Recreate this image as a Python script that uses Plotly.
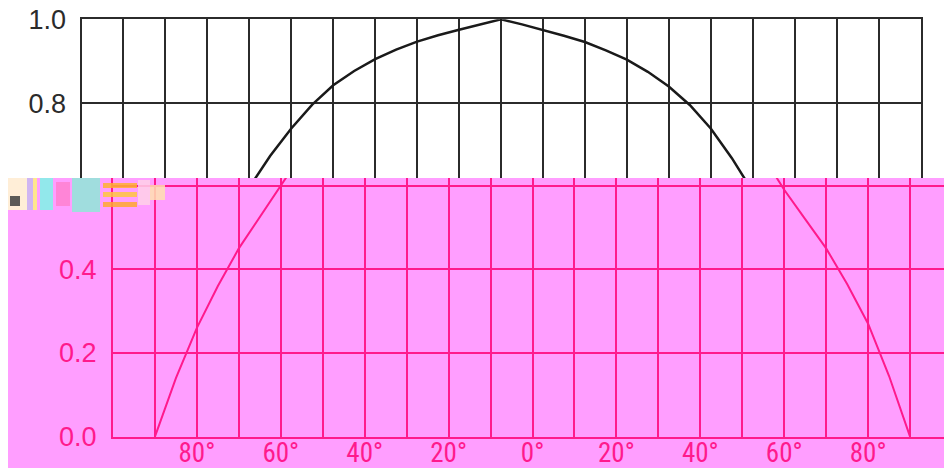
import plotly.graph_objects as go

# ---- data ----
angles = [-90, -85, -80, -75, -70, -65, -60, -55, -50, -45, -40, -35, -30, -25, -20, -15, -10, -5, 0,
          5, 10, 15, 20, 25, 30, 35, 40, 45, 50, 55, 60, 65, 70, 75, 80, 85, 90]
gain = [0.0, 0.14, 0.26, 0.36, 0.45, 0.525, 0.60, 0.675, 0.74, 0.797, 0.843, 0.877, 0.905, 0.928, 0.947,
        0.962, 0.975, 0.988, 1.0, 0.988, 0.975, 0.961, 0.946, 0.926, 0.904, 0.875, 0.84, 0.796, 0.74,
        0.67, 0.59, 0.52, 0.45, 0.365, 0.27, 0.145, 0.0]
x_tick_vals = [-80, -60, -40, -20, 0, 20, 40, 60, 80]
x_tick_text = ["80°", "60°", "40°", "20°", "0°", "20°", "40°", "60°", "80°"]
y_tick_vals_top = [0.8, 1.0]
y_tick_text_top = ["0.8", "1.0"]
y_tick_vals_bottom = [0.0, 0.2, 0.4, 0.6]
y_tick_text_bottom = ["0.0", "0.2", "0.4", ""]  # the 0.6 label is hidden under the glitch

W, H = 944, 468
DARK = "#2b2b2b"
PINK_BG = "#FF9EFF"
PINK = "#FF1A8C"


def px(x):
    return x / W


def py(y):
    return 1 - y / H


fig = go.Figure()

# top (clean) copy
fig.add_trace(go.Scatter(x=angles, y=gain, mode="lines", xaxis="x", yaxis="y",
                         line=dict(color="#1a1a1a", width=2.5), hoverinfo="skip", showlegend=False))
# bottom (shifted, tinted) copy
fig.add_trace(go.Scatter(x=angles, y=gain, mode="lines", xaxis="x2", yaxis="y2",
                         line=dict(color=PINK, width=2), hoverinfo="skip", showlegend=False))

top_bottom_px = 178
top_top_px = 19.3
scale_top = 420.0
bot_zero_px = 436.7
scale_bot = 418.5
x2_zero_px = 532.5
x2_scale = 4.195
x2_range = [(113 - x2_zero_px) / x2_scale, (W - x2_zero_px) / x2_scale]

fig.update_layout(
    width=W, height=H,
    margin=dict(l=0, r=0, t=0, b=0, autoexpand=False),
    paper_bgcolor="white",
    plot_bgcolor="rgba(0,0,0,0)",
    xaxis=dict(domain=[px(81.5), px(920.5)], range=[-100, 100], anchor="y", side="top",
               tick0=0, dtick=10, showgrid=True, gridcolor=DARK, gridwidth=2,
               showline=True, linecolor=DARK, linewidth=2, showticklabels=False,
               ticks="", zeroline=False, fixedrange=True, automargin=False),
    yaxis=dict(domain=[py(top_bottom_px), py(top_top_px)],
               range=[1 - (top_bottom_px - top_top_px) / scale_top, 1.0], anchor="x",
               tickvals=y_tick_vals_top, ticktext=y_tick_text_top,
               showgrid=True, gridcolor=DARK, gridwidth=2,
               showline=True, mirror=True, linecolor=DARK, linewidth=2,
               ticks="", ticklabelstandoff=8, zeroline=False, automargin=False,
               tickfont=dict(family="Liberation Sans, Arial, sans-serif", size=27, color=DARK)),
    xaxis2=dict(domain=[px(113), 1.0], range=x2_range, anchor="y2",
                tick0=0, dtick=10, showgrid=True, gridcolor=PINK, gridwidth=1.5,
                showline=True, linecolor=PINK, linewidth=2, showticklabels=False,
                ticks="", zeroline=False, automargin=False),
    xaxis3=dict(domain=[px(113), 1.0], overlaying="x2", anchor="free", position=py(434),
                range=x2_range, tickvals=x_tick_vals, ticktext=x_tick_text,
                showgrid=False, showline=False, ticks="", ticklabelstandoff=0,
                zeroline=False, automargin=False,
                tickfont=dict(family="Liberation Sans Narrow, Roboto Condensed, DejaVu Sans Condensed, sans-serif",
                              size=27, color=PINK)),
    yaxis2=dict(domain=[py(bot_zero_px), py(top_bottom_px)],
                range=[0, (bot_zero_px - top_bottom_px) / scale_bot], anchor="x2",
                tickvals=y_tick_vals_bottom, ticktext=y_tick_text_bottom,
                showgrid=True, gridcolor=PINK, gridwidth=1.5,
                showline=True, linecolor=PINK, linewidth=2,
                ticks="", ticklabelstandoff=9, zeroline=False, automargin=False,
                tickfont=dict(family="Liberation Sans, Arial, sans-serif", size=27, color=PINK)),
)

# invisible trace to activate the label axis
fig.add_trace(go.Scatter(x=[angles[0]], y=[gain[0]], mode="markers", xaxis="x3", yaxis="y2",
                         marker=dict(opacity=0), hoverinfo="skip", showlegend=False))

shapes = [
    dict(type="rect", xref="paper", yref="paper", x0=px(8), x1=1, y0=0, y1=py(top_bottom_px),
         fillcolor=PINK_BG, line=dict(width=0), layer="below"),
]
# glitch blocks at the seam
glitch = [
    (8, 27, 178, 210, "#FFFBD0"), (27, 33, 178, 210, "#C8B8F0"), (33, 37, 178, 210, "#FFF27A"),
    (40, 53, 178, 210, "#7FF5E8"), (56, 70, 182, 206, "#FF80D0"), (72, 100, 178, 212, "#8FE8D8"),
    (103, 137, 183, 188, "#FFB030"), (103, 137, 192, 197, "#FFC640"), (103, 137, 202, 207, "#FFA830"),
    (138, 150, 180, 205, "#FFD0E8"), (150, 165, 185, 200, "#FFE0B0"),
    (10, 20, 196, 206, "#404040"),
]
for x0, x1, y0, y1, c in glitch:
    shapes.append(dict(type="rect", xref="paper", yref="paper", x0=px(x0), x1=px(x1),
                       y0=py(y1), y1=py(y0), fillcolor=c, line=dict(width=0), layer="above",
                       opacity=0.85))
fig.update_layout(shapes=shapes)

fig.write_html("out.html", config={"displayModeBar": False},
               post_script="document.body.style.margin='0';document.body.style.overflow='hidden';")
